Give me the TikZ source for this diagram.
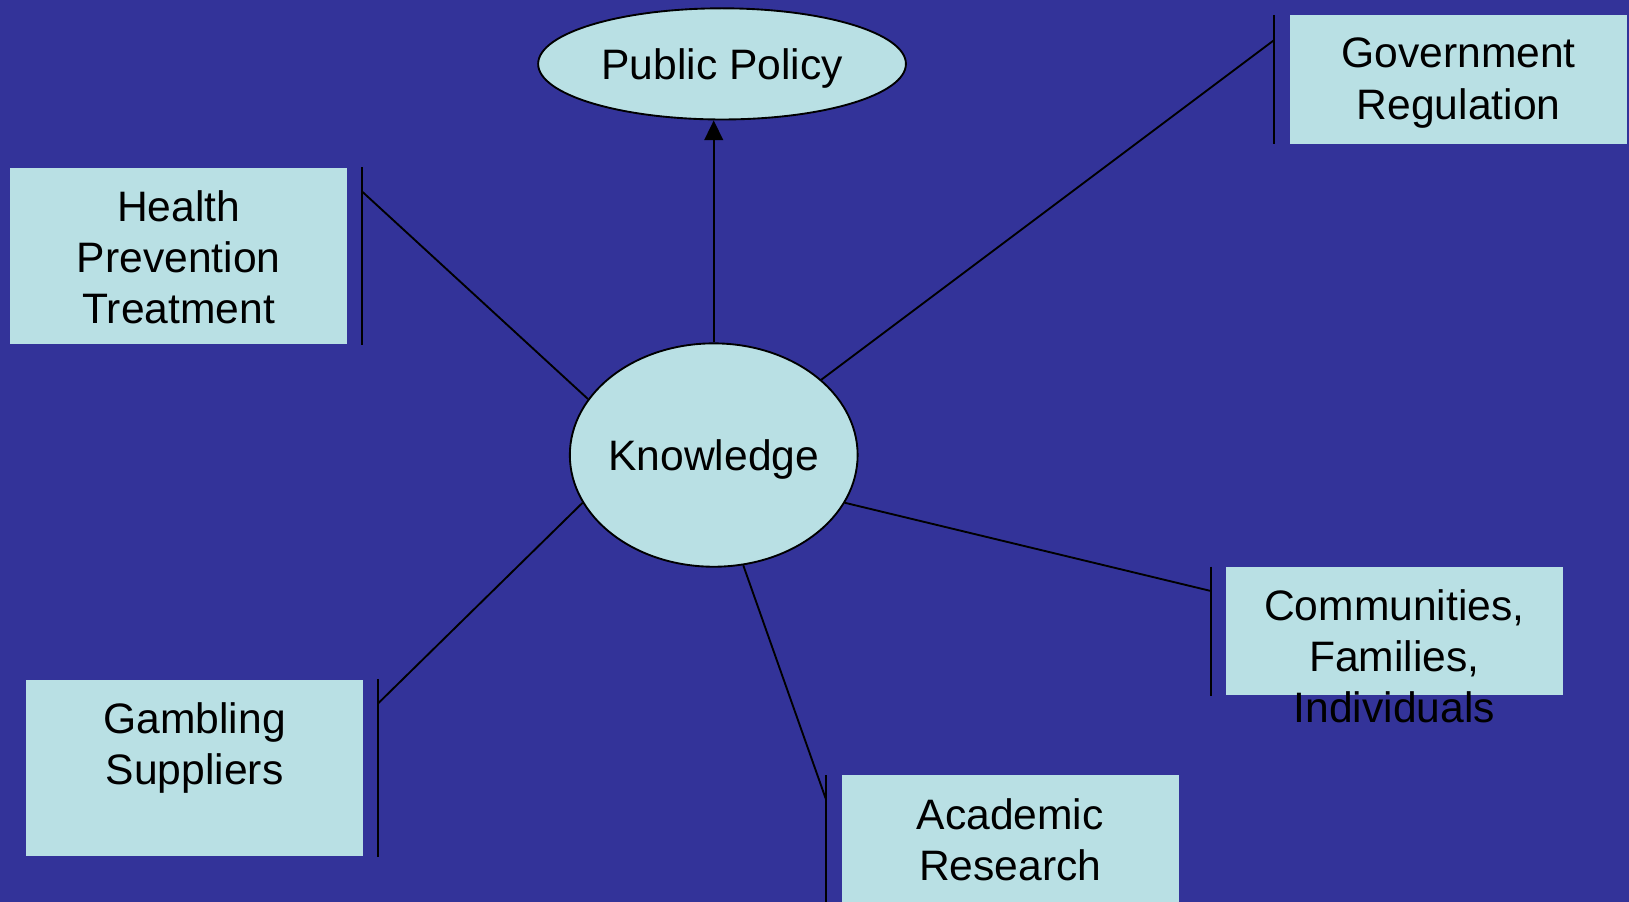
\documentclass[tikz,border=0pt]{standalone}
\usepackage{fontspec}
\setmainfont{Liberation Sans}
\usepackage{tikz}
\usetikzlibrary{shapes,arrows.meta}

\definecolor{bgblue}{RGB}{51,51,153}
\definecolor{boxblue}{RGB}{185,224,228}

\tikzset{
  oval/.style={draw,ellipse,fill=boxblue,line width=0.9pt,inner xsep=-6pt,inner ysep=0pt,text depth=0pt},
  box/.style={fill=boxblue,anchor=north west,minimum width=162pt,inner sep=0pt},
  shortbox/.style={box,minimum height=61.8pt},
  tallbox/.style={box,minimum height=85pt},
  boxtext/.style={anchor=north,align=center,inner sep=0pt,yshift=-11pt},
  link/.style={draw,line width=0.9pt},
}

\begin{document}
\begin{tikzpicture}[x=0.5pt,y=-0.5pt,font=\fontsize{20.5pt}{24.6pt}\selectfont]
\fill[bgblue] (0,0) rectangle (1568,868);
\useasboundingbox (0,0) rectangle (1568,868);

\node[name=Public-Policy,oval,minimum width=177pt,minimum height=53.5pt] at (695,61.5) {Public Policy};
\node[name=Knowledge,oval,minimum width=138.5pt,minimum height=107.5pt] at (687,438) {Knowledge};

\node[name=Government,shortbox,label={[boxtext]north:Government\\Regulation}] at (1241.6,14.4) {};
\node[name=Health,tallbox,label={[boxtext]north:Health\\Prevention\\Treatment}] at (9.6,161) {};
\node[name=Gambling,tallbox,label={[boxtext]north:Gambling\\Suppliers}] at (25,654) {};
\node[name=Academic,tallbox,label={[boxtext]north:Academic\\Research}] at (810,746) {};
\node[name=Communities,shortbox,label={[boxtext]north:Communities,\\Families,\\Individuals}] at (1179.7,545.4) {};

\coordinate (Government-end) at (1226.5,38.5);
\coordinate (Health-end) at (348.7,184.5);
\coordinate (Gambling-end) at (364,677);
\coordinate (Academic-end) at (795,769.3);
\coordinate (Communities-end) at (1165.3,568.8);

\draw[link,-{Triangle[length=9.5pt,width=9pt]}] (Knowledge.north) -- (Knowledge.north |- Public-Policy.south);

\draw[link] (Knowledge.35) -- (Government-end);
\draw[link] (Knowledge.156) -- (Health-end);
\draw[link] (Knowledge.200) -- (Gambling-end);
\draw[link] (Knowledge.285) -- (Academic-end);
\draw[link] (Knowledge.340) -- (Communities-end);

\draw[link] (Government-end |- Government.north) -- (Government-end |- Government.south);
\draw[link] (Health-end |- Health.north) -- (Health-end |- Health.south);
\draw[link] (Gambling-end |- Gambling.north) -- (Gambling-end |- Gambling.south);
\draw[link] (Academic-end |- Academic.north) -- (Academic-end |- Academic.south);
\draw[link] (Communities-end |- Communities.north) -- (Communities-end |- Communities.south);
\end{tikzpicture}
\end{document}
